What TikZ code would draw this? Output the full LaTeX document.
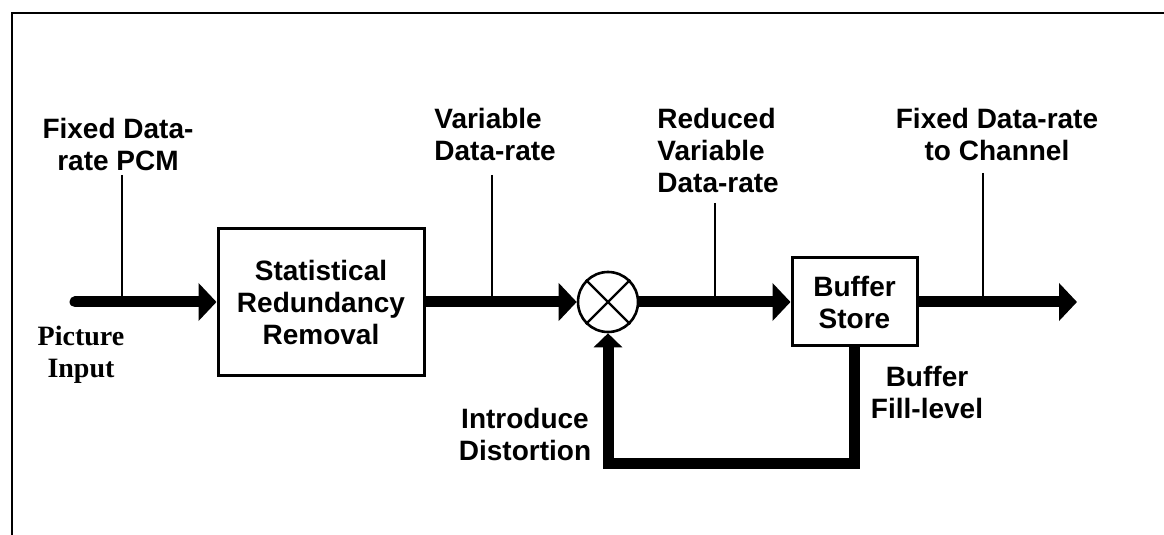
\documentclass[tikz,border=0pt]{standalone}
\usepackage{fontspec}
\setmainfont{Liberation Sans}
\newfontfamily\picfont{Liberation Serif}
\usetikzlibrary{arrows.meta}
\usetikzlibrary{positioning}
\tikzset{
block/.style={
	rectangle,
	draw=black,
	line width=1.5pt,
	text centered,
	align=center,
	font=\fontsize{14}{16}\selectfont\bfseries,
	inner sep=2pt
},
mixer/.style={
	circle,
	draw=black,
	line width=1.3pt,
	minimum size=30pt,
	inner sep=0pt
},
tag/.style={
	align=center,
	font=\fontsize{14}{16}\selectfont\bfseries,
	inner sep=0pt
},
flow/.style={
	line width=5.5pt,
	-{Triangle[length=9pt,width=18.5pt]}
},
feed/.style={
	line width=5.5pt,
	-{Triangle[length=7pt,width=14pt]}
},
tick/.style={
	line width=1.1pt
},
frame/.style={
	line width=1.3pt
}
}

\begin{document}
\begin{tikzpicture}[x=0.5pt, y=-0.5pt]
\useasboundingbox (0,0) rectangle (1164,535);
% ===== Frame (top and left edges only) =====
\coordinate (fbl) at (12,535);
\coordinate (ftl) at (12,13);
\coordinate (ftr) at (1164,13);
\draw [frame] (fbl) -- (ftl) -- (ftr);

% ===== Main chain =====
\coordinate (in)  at (75,302);
\node (srr) [block, minimum width=103pt, minimum height=73.5pt] at (321,302) {Statistical\\Redundancy\\Removal};
\node (mix) [mixer]                                              at (608,302) {};
\node (buf) [block, minimum width=62.5pt, minimum height=44pt]    at (854.5,302) {Buffer\\Store};
\coordinate (out) at (1077,302);
\draw [line width=1.2pt] (mix.north west) -- (mix.south east);
\draw [line width=1.2pt] (mix.north east) -- (mix.south west);

% ===== Labels =====
\node (lpcm)  [tag]                   at (118,144)  {Fixed Data-\\rate PCM};
\node (lin)   [tag, font=\picfont\fontsize{14}{16}\selectfont\bfseries] at (81,355) {Picture\\Input};
\node (lvar)  [tag, anchor=west, align=left] at (434,134) {Variable\\Data-rate};
\node (lred)  [tag, anchor=west, align=left] at (657,150) {Reduced\\Variable\\Data-rate};
\node (lout)  [tag]                   at (997,134)  {Fixed Data-rate\\to Channel};
\node (lfill) [tag]                   at (927,392)  {Buffer\\Fill-level};
\node (ldist) [tag]                   at (525,434)  {Introduce\\Distortion};

% ===== Arrows =====
\draw [flow, line cap=round] (in) -- (srr);
\draw [flow] (srr) -- (mix);
\draw [flow] (mix) -- (buf);
\draw [flow] (buf) -- (out);
% feedback: fill level -> distortion
\draw [feed] (buf.south) -- ++(0,116) -| (mix.south);

% ===== Label ticks =====
\coordinate (tpcm) at (122,175);
\coordinate (tvar) at (492,175);
\coordinate (tred) at (715,203);
\coordinate (tout) at (983,173);
\draw [tick] (tpcm) -- (tpcm |- in);
\draw [tick] (tvar) -- (tvar |- in);
\draw [tick] (tred) -- (tred |- in);
\draw [tick] (tout) -- (tout |- in);

\end{tikzpicture}
\end{document}
